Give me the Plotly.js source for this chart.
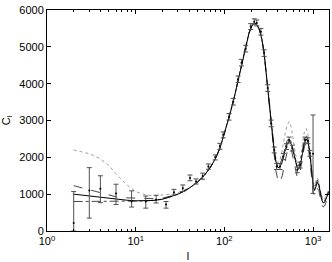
<!DOCTYPE html>
<html><head><meta charset="utf-8">
<script src="https://cdn.plot.ly/plotly-3.0.1.min.js"></script>
<style>html,body{margin:0;padding:0;background:#fff}#chart{width:332px;height:262px}</style>
</head><body><div id="chart"></div>
<script>
// multipole l grid for model curves
const modelL = [2,3,4,5,6,8,10,13,16,20,25,30,35,40,50,60,70,80,90,100,115,130,145,160,175,190,205,220,235,250,265,280,300,320,340,360,380,400,420,450,480,510,540,570,600,630,660,690,720,760,800,840,880,920,960,1000,1040,1080,1120,1160,1200,1250,1300,1350,1400,1450,1500];
const modelSolid = [1000,950,910,880,860,835,820,815,830,860,930,1000,1080,1160,1330,1520,1740,1980,2280,2650,3150,3650,4170,4650,5050,5380,5580,5650,5580,5450,5200,4850,4150,3450,2850,2280,1900,1730,1720,1880,2150,2350,2450,2350,2150,1900,1720,1680,1800,2100,2400,2500,2400,2100,1650,1250,1100,1200,1320,1250,1050,850,760,780,870,970,1050];
const modelDashed = [1230,1120,1030,970,930,900,890,880,880,890,940,1000,1080,1160,1330,1520,1740,1980,2280,2650,3150,3650,4170,4650,5050,5380,5580,5650,5580,5450,5200,4850,4150,3450,2800,2100,1650,1400,1320,1500,1850,2150,2280,2200,1950,1650,1480,1480,1650,2000,2300,2400,2300,1950,1450,1050,950,1050,1150,1100,900,720,650,680,780,880,950];
const modelDashDot = [800,800,800,800,800,800,805,815,835,870,930,1000,1080,1160,1330,1520,1740,1980,2280,2650,3150,3650,4170,4650,5050,5380,5580,5650,5580,5450,5200,4850,4150,3450,2870,2250,1880,1750,1780,1980,2250,2450,2520,2400,2180,1930,1780,1780,1900,2200,2500,2600,2450,2150,1700,1300,1180,1280,1380,1300,1100,900,800,820,900,1000,1080];
const modelDotted = [2200,2100,1960,1780,1550,1250,1070,980,960,980,1000,1040,1100,1170,1340,1530,1750,1990,2290,2660,3160,3660,4180,4660,5060,5390,5590,5660,5590,5460,5220,4880,4200,3500,2920,2350,2000,1850,1900,2200,2600,2880,2970,2800,2450,2100,1850,1800,1950,2350,2700,2780,2600,2200,1750,1350,1250,1380,1450,1350,1150,950,850,870,950,1050,1120];

// measured band powers
const dataL = [2,3,4,6,9,13,17,22,27,34,41,48,57,66,79,89,97,113,126,143,156,174,198,217,232,258,281,308,337,365,389,424,462,502,537,584,665,714,812,876,920,1000];
const dataC = [220,1100,1150,1020,800,800,850,720,1050,1160,1440,1345,1490,1750,2000,2300,2610,3100,3510,4120,4570,4950,5550,5680,5650,5410,4830,3880,2920,2200,1750,1750,2020,2290,2470,2250,1660,1790,2470,2450,2110,2100];
const errUp = [850,620,350,250,290,150,120,80,80,90,80,70,80,70,65,80,80,90,90,90,90,90,80,80,80,90,90,90,90,80,80,80,80,80,80,80,80,80,80,80,80,1050];
const errDown = [220,750,380,300,150,180,90,100,75,90,75,70,85,75,70,80,80,90,90,90,90,90,80,80,80,90,90,90,90,80,80,80,80,80,80,80,80,80,80,80,80,1080];

const xTickVals = [1,10,100,1000];
const xTickText = ['10<sup>0</sup>','10<sup>1</sup>','10<sup>2</sup>','10<sup>3</sup>'];
const xMinor = [2,3,4,5,6,7,8,9,20,30,40,50,60,70,80,90,200,300,400,500,600,700,800,900];

const traces = [
  {x:modelL, y:modelDotted, mode:'lines', line:{color:'#a0a0a0', width:1, dash:'dot'}, hoverinfo:'skip'},
  {x:modelL, y:modelDashDot, mode:'lines', line:{color:'#333', width:0.9, dash:'dashdot'}, hoverinfo:'skip'},
  {x:modelL, y:modelDashed, mode:'lines', line:{color:'#333', width:0.9, dash:'dash'}, hoverinfo:'skip'},
  {x:modelL, y:modelSolid, mode:'lines', line:{color:'#000', width:1}, hoverinfo:'skip'},
  {x:dataL, y:dataC, mode:'markers', marker:{color:'#000', size:2},
   error_y:{type:'data', symmetric:false, array:errUp, arrayminus:errDown, color:'#505050', thickness:1, width:2.5}}
];

const axisCommon = {showline:true, linecolor:'#000', linewidth:1, mirror:'ticks', ticks:'inside', ticklen:4, tickcolor:'#000', showgrid:false, zeroline:false, tickfont:{family:'Liberation Sans, Arial, sans-serif', size:11, color:'#000'}};

const layout = {
  width:332, height:262, showlegend:false,
  margin:{l:47, r:3, t:10, b:31},
  paper_bgcolor:'#fff', plot_bgcolor:'#fff',
  font:{color:'#000'},
  xaxis: Object.assign({}, axisCommon, {type:'log', range:[0, 3.18], tickmode:'array', tickvals:xTickVals, ticktext:xTickText,
    minor:{ticks:'inside', ticklen:2, tickcolor:'#000', tickmode:'array', tickvals:xMinor},
    title:{text:'l', font:{family:'Liberation Sans, Arial, sans-serif', size:11, color:'#000'}, standoff:7}}),
  yaxis: Object.assign({}, axisCommon, {range:[0,6000], tickmode:'linear', tick0:0, dtick:1000,
    title:{text:'C<sub>l</sub>', font:{family:'Liberation Sans, Arial, sans-serif', size:11, color:'#000'}, standoff:6}})
};

Plotly.newPlot('chart', traces, layout, {displayModeBar:false, staticPlot:true});
</script></body></html>
